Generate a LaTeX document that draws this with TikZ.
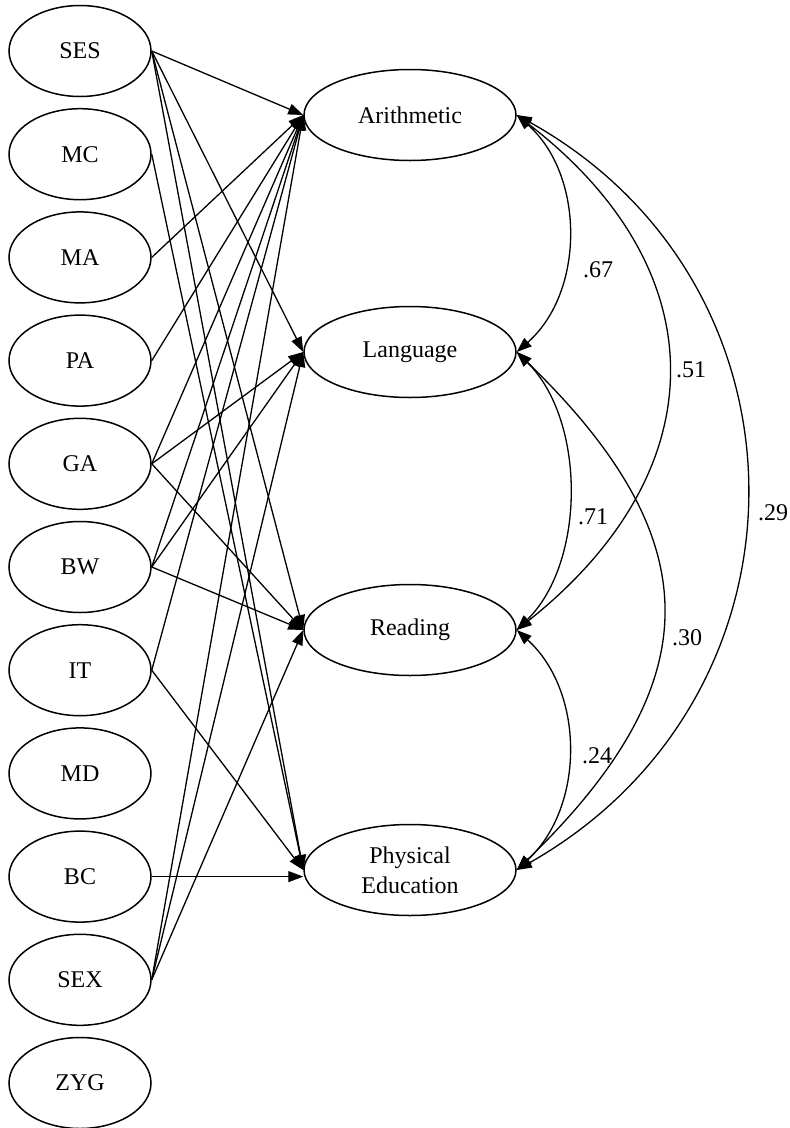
\documentclass[tikz,border=0pt]{standalone}
\usepackage{fontspec}
\setmainfont{Liberation Serif}
\usepackage{tikz}
\usetikzlibrary{arrows.meta,shapes.geometric}

\begin{document}
\begin{tikzpicture}[x=1pt,y=-1pt,font=\fontsize{24}{30}\selectfont,
  lv/.style={draw,ellipse,line width=1.5pt,minimum width=142pt,minimum height=91pt,inner sep=0pt},
  dv/.style={lv,minimum width=212pt,align=center},
  regr/.style={line width=1.3pt,-{Triangle[length=15pt,width=11pt]}},
  cov/.style={line width=1.3pt,{Triangle[length=15pt,width=11pt]}-{Triangle[length=15pt,width=11pt]}}]
\useasboundingbox (0,0) rectangle (790,1128);
% observed predictors
\foreach \name [count=\i from 0] in {SES,MC,MA,PA,GA,BW,IT,MD,BC,SEX,ZYG}
  \node[lv] (\name) at (80,{51+103.2*\i}) {\name};
% school subjects
\node[dv] (arith) at (410,115) {Arithmetic};
\node[dv] (lang) at (410,352) {Language};
\node[dv] (read) at (410,630) {Reading};
\node[dv] (phys) at (410,870) {Physical\\Education};
% paths
\foreach \s/\t in {SES/arith,SES/lang,SES/read,SES/phys,MC/phys,MA/arith,PA/arith,
    GA/arith,GA/lang,GA/read,BW/arith,BW/lang,BW/read,IT/arith,IT/phys,
    SEX/arith,SEX/lang,SEX/read}
  \draw[regr] (\s.east) -- (\t.west);
\draw[regr] (BC.east) -- (BC.east -| phys.west);
% correlations
\draw[cov] (arith.east) .. controls (585,175) and (585,292) .. (lang.east);
\draw[cov] (lang.east) .. controls (586,420) and (586,562) .. (read.east);
\draw[cov] (read.east) .. controls (585,692) and (585,807) .. (phys.east);
\draw[cov] (arith.east) .. controls (718,270) and (718,470) .. (read.east);
\draw[cov] (lang.east) .. controls (711,540) and (711,682) .. (phys.east);
\draw[cov] (arith.east) .. controls (822,285) and (822,697) .. (phys.east);
\node (r67) at (598,270) {.67};
\node (r71) at (593,517) {.71};
\node (r24) at (597,756) {.24};
\node (r51) at (691,370) {.51};
\node (r30) at (687,638) {.30};
\node (r29) at (773,513) {.29};
\end{tikzpicture}
\end{document}
